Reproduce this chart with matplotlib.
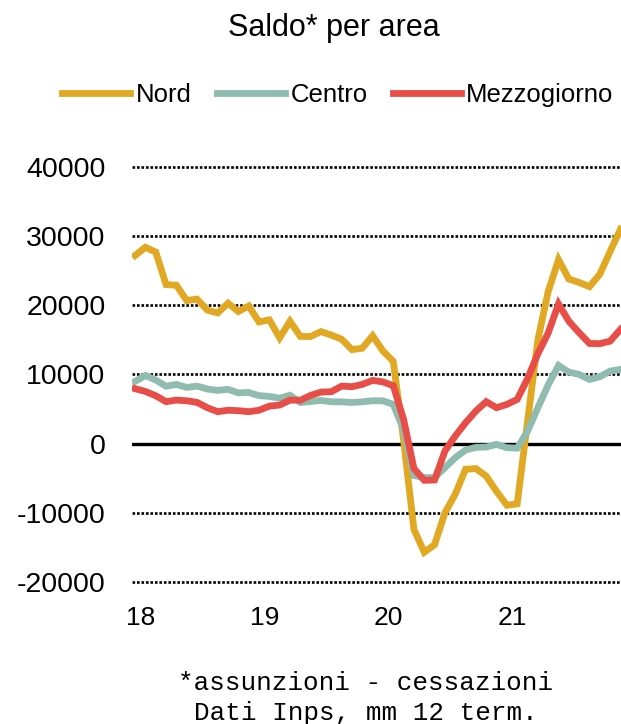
import matplotlib
matplotlib.use("Agg")
import matplotlib.pyplot as plt
import numpy as np

# saldo mensile (mm 12 termini), gen 2018 - dic 2021
nord = [27200, 28400, 27700, 23000, 22900, 20700, 20900, 19300, 18900, 20300,
        19100, 19900, 17600, 17900, 15300, 17700, 15500, 15500, 16200, 15700,
        15100, 13600, 13800, 15600, 13400, 11900, 500, -12400, -15700, -14600,
        -10000, -7300, -3700, -3600, -4700, -6900, -8900, -8700, 3200, 15000,
        22000, 26600, 23800, 23300, 22700, 24500, 27800, 31000]
centro = [9000, 9850, 9200, 8300, 8570, 8130, 8320, 7900, 7700, 7850,
          7350, 7400, 6950, 6830, 6580, 7000, 5950, 6100, 6250, 6050,
          6050, 5950, 6050, 6200, 6200, 5680, 2000, -4600, -4900, -4900,
          -3470, -2020, -920, -530, -490, -100, -580, -650, 1800, 5200,
          8500, 11300, 10350, 10010, 9290, 9680, 10490, 10740]
mezzogiorno = [7950, 7550, 6930, 6070, 6300, 6200, 5970, 5200, 4620, 4830,
               4770, 4620, 4830, 5430, 5580, 6300, 6280, 6980, 7460, 7510,
               8320, 8240, 8570, 9150, 8930, 8380, 3500, -3600, -5300, -5250,
               -1060, 1100, 3030, 4720, 6070, 5200, 5680, 6400, 9400, 13000,
               16000, 20200, 17700, 16040, 14490, 14450, 14830, 16520]

year_labels = ["18", "19", "20", "21"]
series_names = ["Nord", "Centro", "Mezzogiorno"]
colors = ["#E0A823", "#8FBCAF", "#E84E48"]

plt.rcParams["axes.unicode_minus"] = False
sans = ["Liberation Sans", "DejaVu Sans"]

fig = plt.figure(figsize=(6.21, 7.24), dpi=100)
ax = fig.add_axes([132 / 621, 1 - 582 / 724, 1 - 132 / 621, (582 - 167) / 724])

months = np.arange(len(nord))
for values, name, color in zip([nord, centro, mezzogiorno], series_names, colors):
    ax.plot(months, values, color=color, linewidth=4.9, label=name,
            solid_joinstyle="miter", zorder=3)

# griglia punteggiata e linea dello zero
ax.set_ylim(-20000, 40000)
ax.set_xlim(-0.3, 47.05)
ax.set_yticks(np.arange(-20000, 40001, 10000))
ax.grid(axis="y", color="black", linestyle=(0, (1, 0.7)), linewidth=1.9, zorder=1)
for gl in ax.get_ygridlines():
    gl.set_clip_on(False)  # le righe a 40000 e -20000 stanno sul bordo
ax.axhline(0, color="black", linewidth=2.4, zorder=2)

ax.set_xticks([0.5, 12.5, 24.5, 36.5])
ax.set_xticklabels(year_labels, fontfamily=sans, fontsize=19)
for lab in ax.get_yticklabels():
    lab.set_fontfamily(sans)
    lab.set_fontsize(20.5)
ax.tick_params(axis="both", length=0)
ax.tick_params(axis="y", pad=19)
ax.tick_params(axis="x", pad=17)
for spine in ax.spines.values():
    spine.set_visible(False)

fig.text(334 / 621, 1 - 28 / 724, "Saldo* per area", ha="center", va="center",
         fontfamily=sans, fontsize=22)

fig.legend(loc="center", bbox_to_anchor=(338 / 621, 1 - 95 / 724), ncol=3,
           frameon=False, prop={"family": sans, "size": 18.5},
           handlelength=2.65, handletextpad=0.2, columnspacing=1.0)

fig.text(366 / 621, 1 - 683 / 724, "*assunzioni - cessazioni", ha="center",
         va="center", fontfamily="Liberation Mono", fontsize=18.7)
fig.text(366 / 621, 1 - 713 / 724, "Dati Inps, mm 12 term.", ha="center",
         va="center", fontfamily="Liberation Mono", fontsize=18.7)

fig.savefig("out.png", dpi=100)
